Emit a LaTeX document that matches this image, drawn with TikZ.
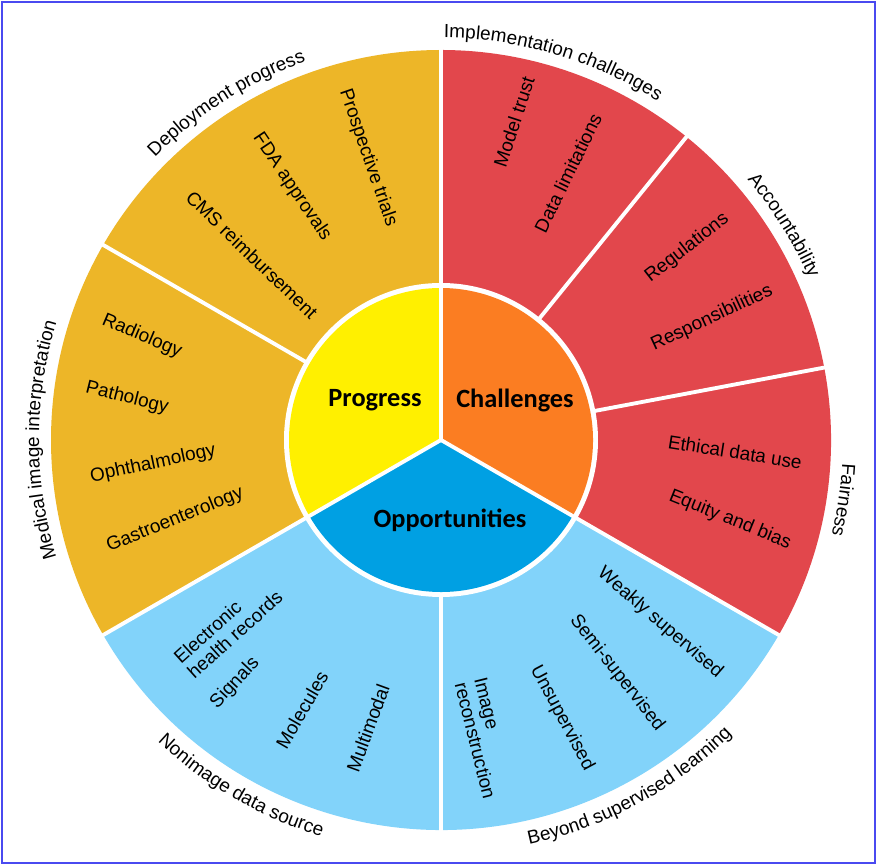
\documentclass[tikz,border=0pt]{standalone}
\usepackage{fontspec}
\setmainfont{Liberation Sans}
\newfontfamily\calib{Carlito}
\usetikzlibrary{decorations.text}
\definecolor{gold}{HTML}{EDB628}
\definecolor{redc}{HTML}{E2474C}
\definecolor{lblue}{HTML}{82D3FA}
\definecolor{iyel}{HTML}{FFF000}
\definecolor{iora}{HTML}{FB7D22}
\definecolor{iblu}{HTML}{00A0E3}
\definecolor{frame}{HTML}{4A4AF0}
\newcommand{\lbl}{\fontsize{10.8}{12}\selectfont}
\tikzset{
  item/.style={font=\fontsize{10.8}{11.5}\selectfont, inner sep=0pt, align=left},
  core/.style={font=\calib\bfseries\fontsize{15}{16}\selectfont, inner sep=0pt},
  gap/.style={draw=white, line width=2.2pt},
}
\begin{document}
\begin{tikzpicture}[x=0.02cm,y=0.02cm]
\useasboundingbox (0,0) rectangle (877,865);
\fill[white] (0,0) rectangle (877,865);
\draw[frame, line width=0.8pt] (2,2) rectangle (875,863);
\begin{scope}[shift={(441,425)}]
% outer sectors
\fill[gold] (0,0) -- (90:390) arc[start angle=90,end angle=210,radius=390] -- cycle;
\fill[redc] (0,0) -- (-30:390) arc[start angle=-30,end angle=90,radius=390] -- cycle;
\fill[lblue] (0,0) -- (210:390) arc[start angle=210,end angle=330,radius=390] -- cycle;
\foreach \a in {90,150,210,270,330,51,10.7} \draw[gap] (0,0) -- (\a:395);
% inner
\fill[white] (0,0) circle[radius=157];
\fill[iyel] (0,0) -- (90:152) arc[start angle=90,end angle=210,radius=152] -- cycle;
\fill[iora] (0,0) -- (-30:152) arc[start angle=-30,end angle=90,radius=152] -- cycle;
\fill[iblu] (0,0) -- (210:152) arc[start angle=210,end angle=330,radius=152] -- cycle;
\foreach \a in {90,210,330} \draw[gap] (0,0) -- (\a:157);
% curved labels
\path[decorate,decoration={text along path,text align=center,text={|\lbl|Deployment progress}}] (142:402) arc[start angle=142,end angle=103,radius=402];
\path[decorate,decoration={text along path,text align=center,text={|\lbl|Implementation challenges}}] (97:402) arc[start angle=97,end angle=50,radius=402];
\path[decorate,decoration={text along path,text align=center,text={|\lbl|Accountability}}] (46:402) arc[start angle=46,end angle=18,radius=402];
\path[decorate,decoration={text along path,text align=center,text={|\lbl|Fairness}}] (2:402) arc[start angle=2,end angle=-19,radius=402];
\path[decorate,decoration={text along path,text align=center,text={|\lbl|Medical image interpretation}}] (205:402) arc[start angle=205,end angle=155,radius=402];
\path[decorate,decoration={text along path,text align=center,text={|\lbl|Nonimage data source}}] (220:414) arc[start angle=220,end angle=260,radius=414];
\path[decorate,decoration={text along path,text align=center,text={|\lbl|Beyond supervised learning}}] (276:414) arc[start angle=276,end angle=321,radius=414];
\end{scope}
% core labels
\node[core] (prog) at (375,465) {Progress};
\node[core] (chal) at (515,465) {Challenges};
\node[core] (opp) at (450,345) {Opportunities};
% deployment
\node[item, rotate=-71] (pt) at (368,707) {Prospective trials};
\node[item, rotate=-56] (fda) at (292,678) {FDA approvals};
\node[item, rotate=-44] (cms) at (252,610) {CMS reimbursement};
% implementation
\node[item, rotate=72] (mt) at (514,743) {Model trust};
\node[item, rotate=64] (dl) at (568,692) {Data limitations};
% accountability
\node[item, rotate=38] (reg) at (687,617) {Regulations};
\node[item, rotate=25] (resp) at (712,547) {Responsibilities};
% fairness
\node[item, rotate=-9] (eth) at (735,413) {Ethical data use};
\node[item, rotate=-22] (eq) at (730,345) {Equity and bias};
% medical
\node[item, rotate=-23] (rad) at (142,529) {Radiology};
\node[item, rotate=-14] (path) at (127,467) {Pathology};
\node[item, rotate=12] (oph) at (153,401) {Ophthalmology};
\node[item, rotate=22] (gas) at (175,345) {Gastroenterology};
% nonimage
\node[item, rotate=42] (ehr) at (228,238) {Electronic\\health records};
\node[item, rotate=47] (sig) at (235,182) {Signals};
\node[item, rotate=60] (mol) at (302,155) {Molecules};
\node[item, rotate=70] (mm) at (368,137) {Multimodal};
% beyond
\node[item, rotate=-41] (weak) at (660,242) {Weakly supervised};
\node[item, rotate=-52] (semi) at (617,192) {Semi-supervised};
\node[item, rotate=-62] (uns) at (562,147) {Unsupervised};
\node[item, rotate=-76] (img) at (485,127) {Image\\reconstruction};
\end{tikzpicture}
\end{document}
